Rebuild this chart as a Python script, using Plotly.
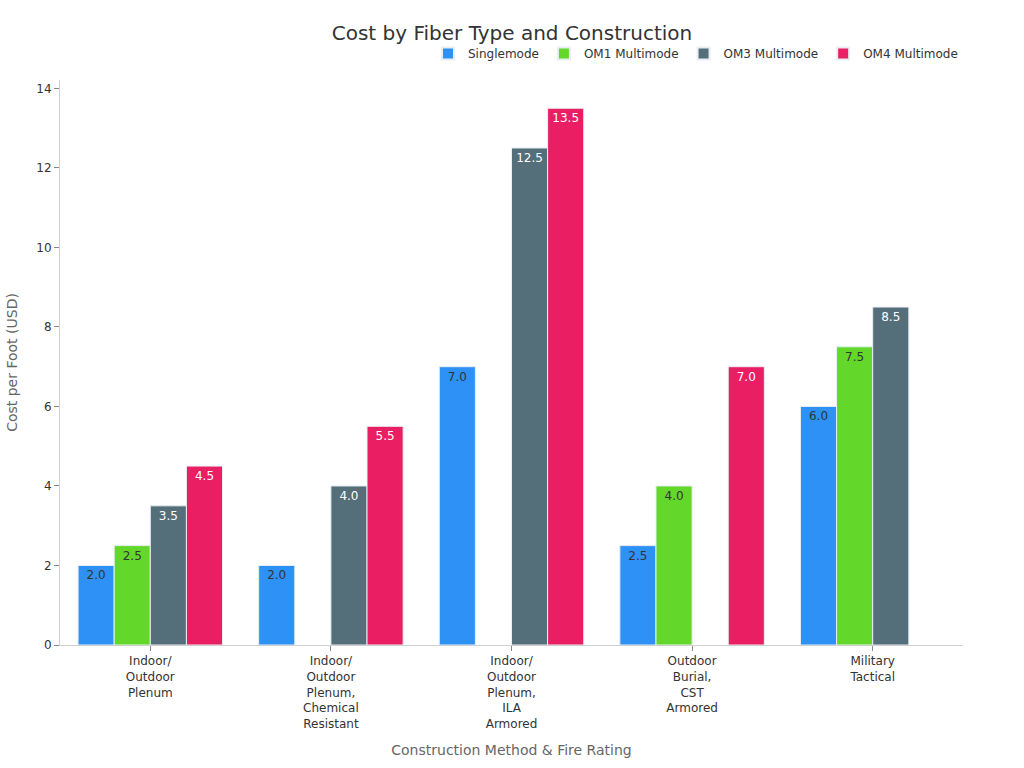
import plotly.graph_objects as go

# categories and values
categories = [
    "Indoor/<br>Outdoor<br>Plenum",
    "Indoor/<br>Outdoor<br>Plenum,<br>Chemical<br>Resistant",
    "Indoor/<br>Outdoor<br>Plenum,<br>ILA<br>Armored",
    "Outdoor<br>Burial,<br>CST<br>Armored",
    "Military<br>Tactical",
]
singlemode = [2.0, 2.0, 7.0, 2.5, 6.0]
om1 = [2.5, None, None, 4.0, 7.5]
om3 = [3.5, 4.0, 12.5, None, 8.5]
om4 = [4.5, 5.5, 13.5, 7.0, None]

series = [
    ("Singlemode", singlemode, "#2E91F5", "#333333"),
    ("OM1 Multimode", om1, "#64D82A", "#333333"),
    ("OM3 Multimode", om3, "#546E7A", "white"),
    ("OM4 Multimode", om4, "#E91E63", "white"),
]

fig = go.Figure()

for name, vals, color, tcolor in series:
    fig.add_trace(go.Bar(
        x=categories,
        y=vals,
        name=name,
        marker=dict(color=color, line=dict(color="#E8EEF2", width=1)),
        text=[f"{v:.1f}" if v is not None else "" for v in vals],
        textposition="inside",
        insidetextanchor="end",
        textfont=dict(size=12, color=tcolor),
        cliponaxis=False,
    ))

fig.update_layout(
    width=1024,
    height=768,
    barmode="group",
    bargap=0.2,
    bargroupgap=0,
    font=dict(family="DejaVu Sans", size=12, color="#333333"),
    title=dict(text="Cost by Fiber Type and Construction", x=0.5, xanchor="center",
               y=0.957, yanchor="middle", font=dict(size=20, color="#333333")),
    legend=dict(orientation="h", xanchor="right", x=1, yanchor="middle", y=1.047,
                font=dict(size=12), itemsizing="constant"),
    margin=dict(l=60, r=61, t=80, b=123),
    plot_bgcolor="white",
    paper_bgcolor="white",
    xaxis=dict(
        title=dict(text="Construction Method & Fire Rating", font=dict(size=14, color="#666666"),
                   standoff=15),
        automargin=False,
        showline=True, linecolor="#D0D0D0", linewidth=1,
        ticks="outside", tickcolor="#888888", ticklen=5,
        showgrid=False, tickfont=dict(size=12),
    ),
    yaxis=dict(
        title=dict(text="Cost per Foot (USD)", font=dict(size=14, color="#666666")),
        showline=True, linecolor="#D0D0D0", linewidth=1,
        ticks="outside", tickcolor="#888888", ticklen=5,
        showgrid=False, zeroline=False, dtick=2, rangemode="tozero",
        tickfont=dict(size=12),
    ),
)

# remove the default page margin so the chart sits at the window's top-left
fig.write_html("out.html", config={"displayModeBar": False},
               post_script="document.body.style.margin='0px';")
